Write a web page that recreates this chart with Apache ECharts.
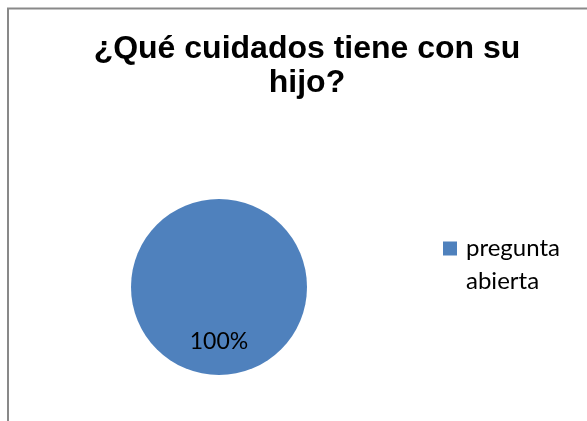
<!DOCTYPE html>
<html>
<head>
<meta charset="utf-8">
<script src="https://cdn.jsdelivr.net/npm/echarts@6/dist/echarts.min.js"></script>
<style>
  html, body { margin: 0; padding: 0; background: #fff; }
  #chart { width: 587px; height: 421px; }
</style>
</head>
<body>
<div id="chart"></div>
<script>
// datos del gráfico
const categorias = ['pregunta abierta'];
const valores = [100];
const colores = ['#4F81BD'];
const titulo = '¿Qué cuidados tiene con su\nhijo?';

const chart = echarts.init(document.getElementById('chart'), null, { renderer: 'canvas' });

const option = {
    backgroundColor: '#ffffff',
    animation: false,
    title: {
        text: titulo,
        left: 302,
        top: 27,
        textAlign: 'center',
        textStyle: {
            fontFamily: '"Liberation Sans", Arial, sans-serif',
            fontWeight: 'bold',
            fontSize: 32,
            lineHeight: 34,
            color: '#000'
        }
    },
    legend: {
        orient: 'vertical',
        left: 443,
        top: 199,
        padding: 0,
        itemWidth: 14,
        itemHeight: 14,
        itemGap: 0,
        icon: 'rect',
        // línea vacía arriba para que el cuadro quede junto a la primera línea
        formatter: name => '\n' + name.split(' ').map(w => '{a|' + w + '}').join('\n'),
        textStyle: {
            fontFamily: 'Lato',
            fontSize: 24,
            lineHeight: 33,
            color: '#000',
            rich: {
                a: {
                    fontFamily: 'Lato',
                    fontSize: 24,
                    lineHeight: 33,
                    color: '#000',
                    padding: [0, 0, 0, 4]
                }
            }
        },
        data: categorias
    },
    graphic: [
        // marco del área del gráfico
        {
            type: 'polyline',
            shape: { points: [[8, 421], [8, 8.5], [587, 8.5]] },
            style: { stroke: '#898989', lineWidth: 2, fill: null }
        }
    ],
    series: [
        {
            type: 'pie',
            center: [219, 287],
            radius: 88,
            startAngle: 90,
            color: colores,
            label: {
                show: true,
                position: 'inside',
                formatter: '{d}%',
                fontFamily: 'Lato',
                fontSize: 23,
                color: '#000',
                offset: [0, 8]
            },
            labelLine: { show: false },
            emphasis: { disabled: true },
            data: categorias.map((c, i) => ({ name: c, value: valores[i] }))
        }
    ]
};

chart.setOption(option);
</script>
</body>
</html>
